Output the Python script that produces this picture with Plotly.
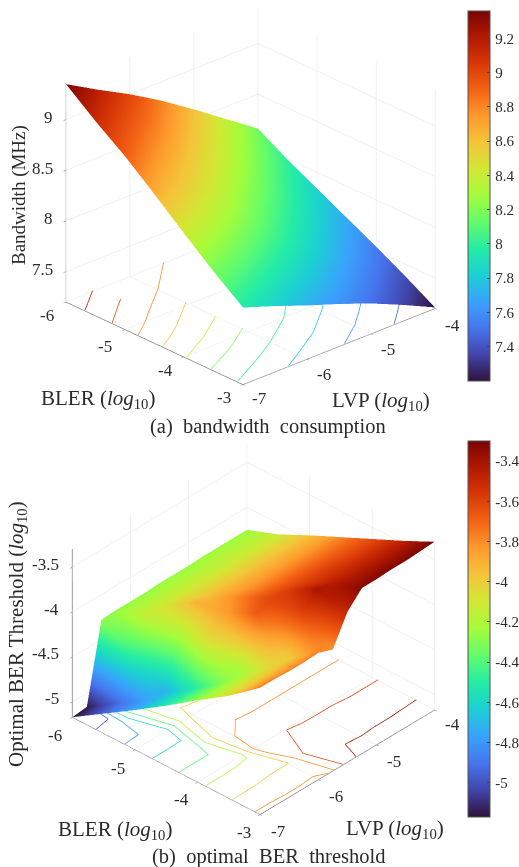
import plotly.graph_objects as go
from plotly.colors import sample_colorscale

W, H = 519, 867
FONT = "Liberation Serif"
INK = "#2b2b2b"

bler = [-6, -5.5, -5, -4.5, -4, -3.5, -3]
lvp_a = [-7, -6.5, -6, -5.5, -5, -4.5, -4]
lvp_b = [-7, -6.75, -6.5, -6.25, -6, -5.75, -5.5, -5.25, -5, -4.75, -4.5, -4.25, -4]

bandwidth = [
    [9.35, 9.17, 9.00, 8.81, 8.60, 8.38, 8.16],
    [9.12, 8.95, 8.79, 8.60, 8.40, 8.20, 7.99],
    [8.91, 8.74, 8.58, 8.40, 8.21, 8.02, 7.84],
    [8.67, 8.53, 8.38, 8.20, 8.03, 7.86, 7.69],
    [8.42, 8.30, 8.16, 8.02, 7.86, 7.70, 7.54],
    [8.18, 8.07, 7.95, 7.82, 7.68, 7.53, 7.38],
    [7.96, 7.85, 7.73, 7.62, 7.50, 7.36, 7.21],
]
threshold = [
    [-5.17, -5.15, -4.28, -4.27, -4.27, -4.27, -4.26, -4.26, -4.26, -4.25, -4.25, -4.25, -4.25],
    [-4.95, -4.93, -4.45, -4.12, -4.12, -4.12, -4.12, -4.12, -4.12, -4.12, -4.12, -4.12, -4.12],
    [-4.73, -4.73, -4.72, -4.25, -3.92, -3.95, -3.95, -3.95, -3.95, -3.95, -3.95, -3.95, -3.95],
    [-4.50, -4.50, -4.50, -4.03, -3.86, -3.78, -3.79, -3.79, -3.79, -3.79, -3.79, -3.79, -3.79],
    [-4.26, -4.26, -4.26, -4.24, -3.68, -3.61, -3.61, -3.62, -3.62, -3.62, -3.63, -3.63, -3.63],
    [-4.03, -4.03, -4.02, -4.01, -4.01, -3.62, -3.42, -3.46, -3.47, -3.47, -3.47, -3.47, -3.47],
    [-3.76, -3.76, -3.77, -3.77, -3.76, -3.82, -3.50, -3.33, -3.33, -3.32, -3.32, -3.31, -3.30],
]

range_a = [7.2, 9.36]
range_b = [-5.17, -3.30]
levels_a = [7.4, 7.6, 7.8, 8.0, 8.2, 8.4, 8.6, 8.8, 9.0, 9.2]
levels_b = [-5.0, -4.8, -4.6, -4.4, -4.2, -4.0, -3.8, -3.6, -3.4]
ztick_a = [7.5, 8, 8.5, 9]
ztext_a = ["7.5", "8", "8.5", "9"]
ztick_b = [-5, -4.5, -4, -3.5]
ztext_b = ["-5", "-4.5", "-4", "-3.5"]
cbtick_a = [7.4, 7.6, 7.8, 8, 8.2, 8.4, 8.6, 8.8, 9, 9.2]
cbtext_a = ["7.4", "7.6", "7.8", "8", "8.2", "8.4", "8.6", "8.8", "9", "9.2"]
cbtick_b = [-5, -4.8, -4.6, -4.4, -4.2, -4, -3.8, -3.6, -3.4]
cbtext_b = ["-5", "-4.8", "-4.6", "-4.4", "-4.2", "-4", "-3.8", "-3.6", "-3.4"]
xtick = [-6, -5, -4, -3]
ytick = [-7, -6, -5, -4]


def contour_lines(xs, ys, table, level):
    """Marching squares on table[ix][iy]; returns a list of chained polylines."""
    segs = []
    for i in range(len(xs) - 1):
        for j in range(len(ys) - 1):
            c = [(xs[i], ys[j], table[i][j]), (xs[i + 1], ys[j], table[i + 1][j]),
                 (xs[i + 1], ys[j + 1], table[i + 1][j + 1]), (xs[i], ys[j + 1], table[i][j + 1])]
            pts = []
            for k in range(4):
                a, b = c[k], c[(k + 1) % 4]
                if (a[2] - level) * (b[2] - level) < 0:
                    t = (level - a[2]) / (b[2] - a[2])
                    pts.append((round(a[0] + t * (b[0] - a[0]), 6), round(a[1] + t * (b[1] - a[1]), 6)))
            for m in range(0, len(pts) - 1, 2):
                segs.append([pts[m], pts[m + 1]])
    lines = []
    while segs:
        line = segs.pop()
        grown = True
        while grown:
            grown = False
            for s in segs:
                if s[0] == line[-1]:
                    line.append(s[1])
                elif s[1] == line[-1]:
                    line.append(s[0])
                elif s[0] == line[0]:
                    line.insert(0, s[1])
                elif s[1] == line[0]:
                    line.insert(0, s[0])
                else:
                    continue
                segs.remove(s)
                grown = True
                break
        lines.append(line)
    return lines


def add_panel(fig, scene, xs, ys, table, zr, levels, cb):
    z = [[table[i][j] for i in range(len(xs))] for j in range(len(ys))]
    fig.add_trace(go.Surface(
        x=xs, y=ys, z=z, scene=scene, colorscale="Turbo", cmin=zr[0], cmax=zr[1],
        lighting=dict(ambient=1, diffuse=0, specular=0, roughness=1, fresnel=0),
        hoverinfo="skip", colorbar=cb))
    floor = zr[0] + 0.004 * (zr[1] - zr[0])
    for lv in levels:
        color = sample_colorscale("Turbo", [(lv - zr[0]) / (zr[1] - zr[0])])[0]
        for line in contour_lines(xs, ys, table, lv):
            fig.add_trace(go.Scatter3d(
                x=[p[0] for p in line], y=[p[1] for p in line], z=[floor] * len(line),
                scene=scene, mode="lines", line=dict(color=color, width=1.5),
                showlegend=False, hoverinfo="skip"))


def colorbar(top, length, tv, tt):
    return dict(x=468 / W, xanchor="left", xpad=0, y=1 - top / H, yanchor="top", ypad=0,
                lenmode="pixels", len=length, thicknessmode="pixels", thickness=22,
                tickmode="array", tickvals=tv, ticktext=["\u200a" + t for t in tt],
                ticks="inside", ticklen=3,
                tickcolor="#444", outlinecolor="#555", outlinewidth=1,
                tickfont=dict(family=FONT, size=15, color=INK))


def axis(rng, tv, tt=None):
    return dict(range=rng, autorange=False, tickmode="array", tickvals=tv,
                ticktext=tt if tt else [str(v) for v in tv], title=dict(text=""),
                showticklabels=False,
                showbackground=False, showgrid=True, gridcolor="#e4e4e4", gridwidth=1,
                showline=True, linecolor="#777", linewidth=1.5, zeroline=False,
                ticks="outside", ticklen=3, tickcolor="#666", tickangle=0,
                tickfont=dict(family=FONT, size=17, color=INK), showspikes=False)


def tick_notes(zr, zt, zl, dxs, dys, dzs):
    out = []
    font = dict(family=FONT, size=17, color=INK)
    base = dict(showarrow=False, font=font)
    eps = 0.001
    for v, d in zip(xtick, dxs):
        out.append(dict(base, x=max(v, -6 + eps), y=-7 + eps, z=zr[0] + eps, text=str(v),
                        xshift=d[0], yshift=-d[1]))
    for v, d in zip(ytick, dys):
        out.append(dict(base, x=-3 - eps, y=max(v, -7 + eps), z=zr[0] + eps, text=str(v),
                        xshift=d[0], yshift=-d[1]))
    for v, t in zip(zt, zl):
        out.append(dict(base, x=-6 + eps, y=-7 + eps, z=v, text=t, xanchor="right",
                        xshift=dzs[0], yshift=-dzs[1]))
    return out


def scene_layout(px_x, px_y, zr, zt, zl, ax, aspect_z, eye, cz, notes):
    return dict(
        domain=dict(x=[px_x[0] / W, px_x[1] / W], y=[1 - px_y[1] / H, 1 - px_y[0] / H]),
        xaxis=axis([-6, -3], xtick), yaxis=axis([-7, -4], ytick), zaxis=axis(zr, zt, zl),
        aspectmode="manual", aspectratio=dict(x=ax, y=ax, z=ax * aspect_z),
        camera=dict(projection=dict(type="orthographic"), center=dict(x=0, y=0, z=cz),
                    up=dict(x=0, y=0, z=1), eye=dict(x=eye[0], y=eye[1], z=eye[2] + cz)),
        bgcolor="rgba(0,0,0,0)", annotations=notes)


fig = go.Figure()
add_panel(fig, "scene", bler, lvp_a, bandwidth, range_a, levels_a,
          colorbar(11, 370, cbtick_a, cbtext_a))
add_panel(fig, "scene2", bler, lvp_b, threshold, range_b, levels_b,
          colorbar(441, 376, cbtick_b, cbtext_b))

D = 2.0
eye_a = (.664 * D, -.612 * D, .43 * D)
eye_b = (.585 * D, -.629 * D, .577 * D)


def note(text, x, y, size=21, angle=0):
    return dict(text=text, x=x / W, y=1 - y / H, xref="paper", yref="paper", showarrow=False,
                xanchor="center", yanchor="middle", textangle=angle,
                font=dict(family=FONT, size=size, color=INK))


notes_a = tick_notes(range_a, ztick_a, ztext_a,
                     [(-19, 14), (-20, 17), (-18, 14), (-19, 13)],
                     [(17, 14), (17, 15), (17, 16), (17, 17)], (-11, -2))
notes_b = tick_notes(range_b, ztick_b, ztext_b,
                     [(-17, 18), (-17, 19), (-16, 17), (-16, 18)],
                     [(18, 17), (18, 17), (18, 17), (18, 15)], (-11, -3))

LOG = "(<i>log</i><sub>10</sub>)"
fig.update_layout(
    width=W, height=H, margin=dict(l=0, r=0, t=0, b=0, autoexpand=False), paper_bgcolor="white",
    showlegend=False, font=dict(family=FONT),
    scene=scene_layout((0, 501), (0, 420), range_a, ztick_a, ztext_a, 1.2445, .928, eye_a, -.075, notes_a),
    scene2=scene_layout((0, 507), (392, 867), range_b, ztick_b, ztext_b, 1.08, .79, eye_b, 0, notes_b),
    annotations=[
        note("BLER " + LOG, 98, 399), note("LVP " + LOG, 381, 401),
        note("Bandwidth (MHz)", 19, 195, size=19, angle=-90),
        note("(a)  bandwidth  consumption", 268, 426, size=20.5),
        note("BLER " + LOG, 115, 830), note("LVP " + LOG, 395, 829),
        note("Optimal BER Threshold " + LOG, 17, 634, size=21, angle=-90),
        note("(b)  optimal  BER  threshold", 268, 856, size=20.5),
    ])
fig.write_html("out.html", config=dict(displayModeBar=False),
               post_script="document.body.style.margin='0';document.body.style.overflow='hidden';")
